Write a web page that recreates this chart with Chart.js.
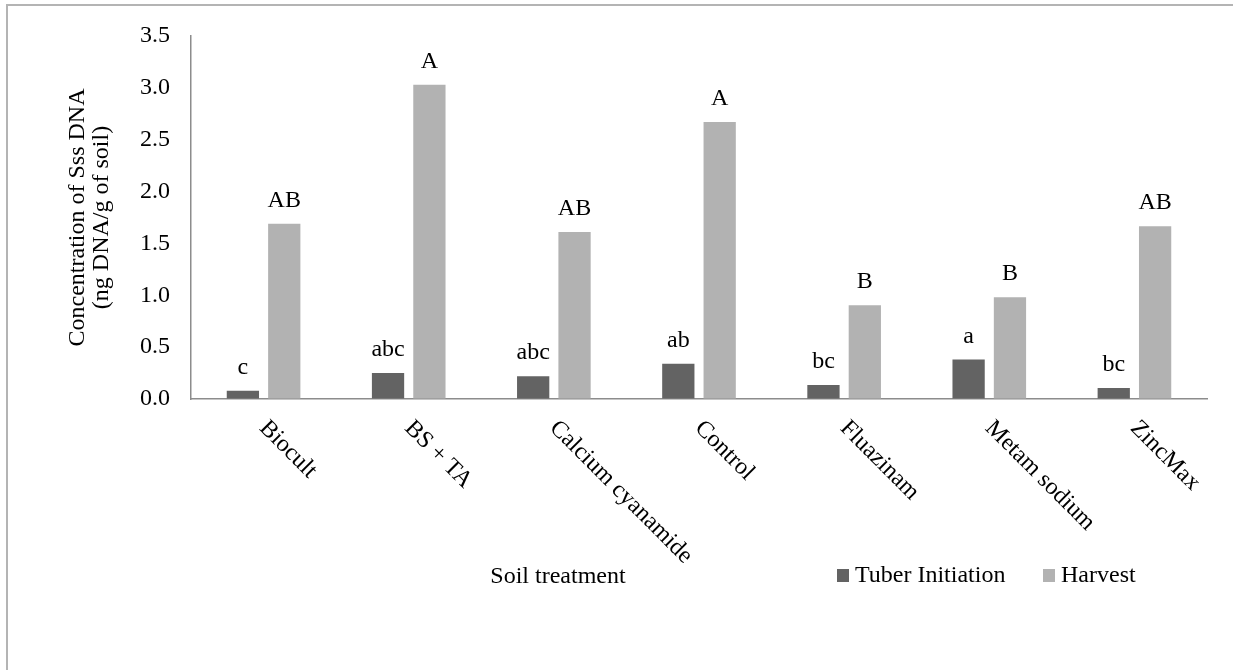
<!DOCTYPE html>
<html>
<head>
<meta charset="utf-8">
<script src="https://cdn.jsdelivr.net/npm/chart.js@4.4.1/dist/chart.umd.min.js"></script>
<style>
  html, body { margin: 0; padding: 0; background: #fff; }
  #wrap { position: relative; width: 1233px; height: 670px; }
</style>
</head>
<body>
<div id="wrap"><canvas id="dnaChart"></canvas></div>
<script>
const treatments = ['Biocult', 'BS + TA', 'Calcium cyanamide', 'Control', 'Fluazinam', 'Metam sodium', 'ZincMax'];
const tuberInitiation = [0.08, 0.25, 0.22, 0.34, 0.135, 0.38, 0.105];
const harvest = [1.69, 3.03, 1.61, 2.67, 0.905, 0.98, 1.665];
const tuberLetters = ['c', 'abc', 'abc', 'ab', 'bc', 'a', 'bc'];
const harvestLetters = ['AB', 'A', 'AB', 'A', 'B', 'B', 'AB'];
const yTicks = [0, 0.5, 1.0, 1.5, 2.0, 2.5, 3.0, 3.5];
const yTitle = ['Concentration of Sss DNA', '(ng DNA/g of soil)'];
const xTitle = 'Soil treatment';

const FONT = '"Liberation Serif", "Times New Roman", serif';
const DARK = '#636363';
const LIGHT = '#b2b2b2';

// draws the frame, rotated category labels, titles, letters and legend
const decorations = {
    id: 'decorations',
    beforeDraw(chart) {
        const ctx = chart.ctx;
        ctx.save();
        ctx.fillStyle = '#ffffff';
        ctx.fillRect(0, 0, chart.width, chart.height);
        ctx.strokeStyle = '#b4b4b4';
        ctx.lineWidth = 2;
        ctx.beginPath();
        ctx.moveTo(7, chart.height);
        ctx.lineTo(7, 5);
        ctx.lineTo(chart.width, 5);
        ctx.stroke();
        ctx.restore();
    },
    afterDraw(chart) {
        const ctx = chart.ctx;
        const xScale = chart.scales.x;
        const area = chart.chartArea;
        ctx.save();
        ctx.fillStyle = '#000';
        ctx.font = '24px ' + FONT;

        // category labels, rotated 45 degrees clockwise
        ctx.textAlign = 'left';
        ctx.textBaseline = 'alphabetic';
        treatments.forEach((name, i) => {
            const x = xScale.getPixelForTick(i);
            ctx.save();
            ctx.translate(x - 5, area.bottom + 30);
            ctx.rotate(Math.PI / 4);
            ctx.fillText(name, 0, 0);
            ctx.restore();
        });

        // significance letters above the bars
        ctx.textAlign = 'center';
        const letters = [tuberLetters, harvestLetters];
        chart.data.datasets.forEach((ds, d) => {
            chart.getDatasetMeta(d).data.forEach((bar, i) => {
                ctx.fillText(letters[d][i], bar.x, bar.y - 17);
            });
        });

        // y axis title (two lines)
        ctx.save();
        ctx.translate(84, (area.top + area.bottom) / 2);
        ctx.rotate(-Math.PI / 2);
        ctx.textAlign = 'center';
        ctx.fillText(yTitle[0], 0, 0);
        ctx.fillText(yTitle[1], 0, 24);
        ctx.restore();

        // x axis title
        ctx.textAlign = 'center';
        ctx.fillText(xTitle, 558, 583);

        // legend
        ctx.textAlign = 'left';
        const legendX = [837, 1043];
        chart.data.datasets.forEach((ds, d) => {
            ctx.fillStyle = ds.backgroundColor;
            ctx.fillRect(legendX[d], 569, 12, 13);
            ctx.fillStyle = '#000';
            ctx.fillText(ds.label, legendX[d] + 18, 582);
        });
        ctx.restore();
    }
};

const ctx = document.getElementById('dnaChart').getContext('2d');
new Chart(ctx, {
    type: 'bar',
    data: {
        labels: treatments,
        datasets: [
            {
                label: 'Tuber Initiation',
                data: tuberInitiation,
                backgroundColor: DARK,
                categoryPercentage: 0.57,
                barPercentage: 0.78
            },
            {
                label: 'Harvest',
                data: harvest,
                backgroundColor: LIGHT,
                categoryPercentage: 0.57,
                barPercentage: 0.78
            }
        ]
    },
    options: {
        responsive: true,
        maintainAspectRatio: false,
        animation: false,
        layout: {
            padding: { left: 0, top: 36, right: 26, bottom: 0 }
        },
        plugins: {
            legend: { display: false },
            tooltip: { enabled: false }
        },
        scales: {
            x: {
                grid: { display: false, drawTicks: false },
                border: { display: true, color: '#8c8c8c', width: 1.5 },
                ticks: { display: false },
                afterFit(scale) {
                    scale.height = 670 - 399;
                }
            },
            y: {
                min: 0,
                max: 3.5,
                grid: { drawOnChartArea: false, drawTicks: false },
                border: { display: true, color: '#8c8c8c', width: 1.5 },
                afterBuildTicks(scale) {
                    scale.ticks = yTicks.map(v => ({ value: v }));
                },
                ticks: {
                    color: '#000',
                    padding: 21,
                    font: { family: FONT, size: 24 },
                    callback: v => Number(v).toFixed(1)
                },
                afterFit(scale) {
                    scale.width = 191;
                }
            }
        }
    },
    plugins: [decorations]
});
</script>
</body>
</html>
